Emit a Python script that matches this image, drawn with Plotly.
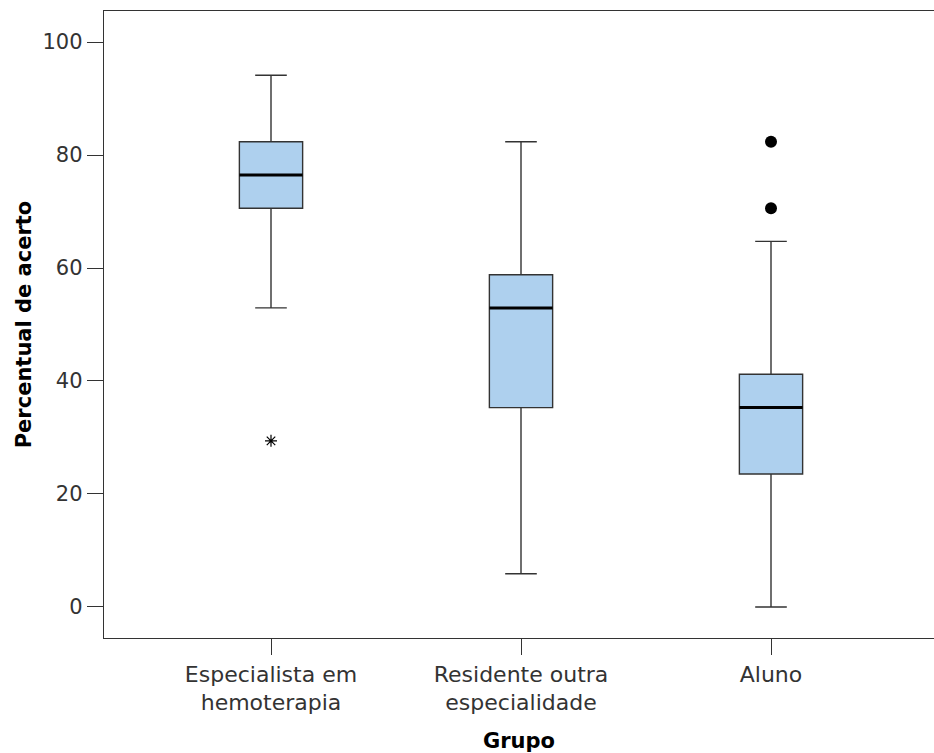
import plotly.graph_objects as go

groups = ["Especialista em<br>hemoterapia", "Residente outra<br>especialidade", "Aluno"]
q1 = [70.59, 35.29, 23.53]
median = [76.47, 52.94, 35.29]
q3 = [82.35, 58.82, 41.18]
lower_whisker = [52.94, 5.88, 0.0]
upper_whisker = [94.12, 82.35, 64.71]
extreme_x = [0]
extreme_y = [29.41]
outlier_x = [2, 2]
outlier_y = [82.35, 70.59]

BOX_W = 0.253
FILL = "#AED0EE"
EDGE = "#333333"
FONT = "DejaVu Sans"

fig = go.Figure()
for i in range(len(groups)):
    fig.add_trace(go.Box(
        x=[i], q1=[q1[i]], median=[median[i]], q3=[q3[i]],
        lowerfence=[lower_whisker[i]], upperfence=[upper_whisker[i]],
        width=BOX_W, whiskerwidth=0.5, fillcolor=FILL,
        line=dict(color=EDGE, width=1.4), boxpoints=False,
        showlegend=False, hoverinfo="skip",
    ))
    fig.add_trace(go.Scatter(
        x=[i - BOX_W / 2, i + BOX_W / 2], y=[median[i], median[i]],
        mode="lines", line=dict(color="black", width=3),
        showlegend=False, hoverinfo="skip",
    ))

fig.add_trace(go.Scatter(
    x=outlier_x, y=outlier_y, mode="markers",
    marker=dict(symbol="circle", size=12, color="black"),
    showlegend=False,
))
fig.add_trace(go.Scatter(
    x=extreme_x, y=extreme_y, mode="markers",
    marker=dict(symbol="asterisk-open", size=10, color="black",
                line=dict(color="#222222", width=1.2)),
    showlegend=False,
))

fig.update_layout(
    width=934, height=753,
    margin=dict(l=104, r=0, t=11, b=115),
    paper_bgcolor="white", plot_bgcolor="white",
    font=dict(family=FONT, color="#333333"),
)
fig.update_xaxes(
    range=[-0.668, 2.652], tickvals=list(range(len(groups))), ticktext=groups,
    showgrid=False, zeroline=False, showline=True, linecolor=EDGE, linewidth=1.4,
    mirror=True, ticks="outside", ticklen=16, tickwidth=1.4, tickcolor=EDGE,
    tickfont=dict(size=22, color="#333333", family=FONT),
    title=dict(text="<b>Grupo</b>", font=dict(size=21, color="black", family=FONT), standoff=20),
)
fig.update_yaxes(
    range=[-5.5, 105.5], tickvals=[0, 20, 40, 60, 80, 100],
    showgrid=False, zeroline=False, showline=True, linecolor=EDGE, linewidth=1.4,
    mirror=False, ticks="outside", ticklen=16, tickwidth=1.4, tickcolor=EDGE,
    tickfont=dict(size=21, color="#333333", family=FONT),
    title=dict(text="<b>Percentual de acerto</b>", font=dict(size=21, color="black", family=FONT), standoff=5),
)

fig.write_html(
    "out.html",
    config={"displayModeBar": False},
    post_script="document.body.style.margin='0';document.body.style.overflow='hidden';",
)
